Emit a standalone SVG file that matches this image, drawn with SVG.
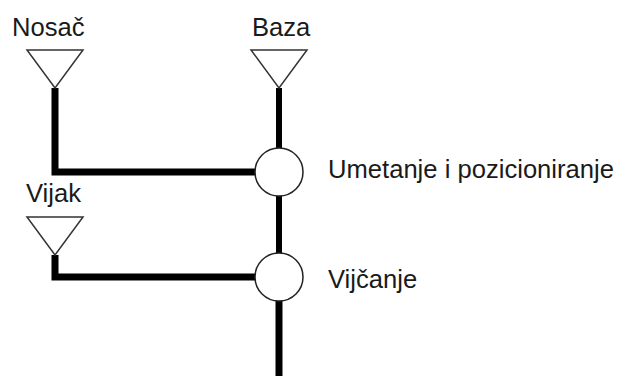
<svg xmlns="http://www.w3.org/2000/svg" width="620" height="376" viewBox="0 0 620 376">
<style>
.lbl{font-family:"Liberation Sans",Arial,sans-serif;font-size:25.6px;fill:#1a1a1a}
.src{fill:#fff;stroke:#333;stroke-width:1.5}
.op{fill:#fff;stroke:#222;stroke-width:1.5}
.ln{fill:none;stroke:#000;stroke-linejoin:miter;stroke-linecap:butt}
</style>
<rect width="620" height="376" fill="#fff"/>
<g id="connectors">
<polyline class="ln" stroke-width="7" points="55,88 55,172 258,172"/>
<line class="ln" stroke-width="6" x1="279" y1="88" x2="279" y2="150"/>
<line class="ln" stroke-width="6" x1="279" y1="196" x2="279" y2="255"/>
<polyline class="ln" stroke-width="7" points="55,255 55,277 258,277"/>
<line class="ln" stroke-width="7" x1="279" y1="300" x2="279" y2="376"/>
</g>
<g id="nosac">
<polygon class="src" points="27,50 83,50 55,88"/>
<text class="lbl" x="12" y="36">Nosač</text>
</g>
<g id="baza">
<polygon class="src" points="251,50 307,50 279,88"/>
<text class="lbl" x="252" y="36">Baza</text>
</g>
<g id="vijak">
<polygon class="src" points="27,217 83,217 55,255"/>
<text class="lbl" x="26" y="202">Vijak</text>
</g>
<g id="umetanje">
<circle class="op" cx="279" cy="172" r="24"/>
<text class="lbl" x="328" y="178">Umetanje i pozicioniranje</text>
</g>
<g id="vijcanje">
<circle class="op" cx="279" cy="277" r="24"/>
<text class="lbl" x="328" y="288">Vijčanje</text>
</g>
</svg>
